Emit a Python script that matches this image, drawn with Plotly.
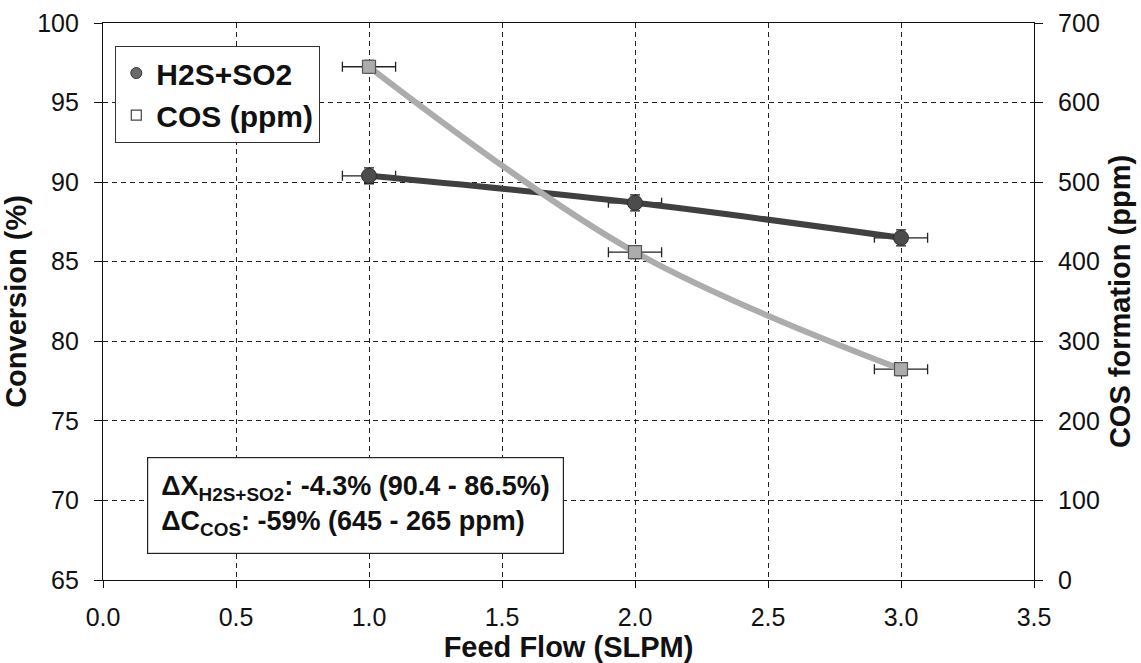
import plotly.graph_objects as go

# Feed flow (SLPM)
feed_flow = [1.0, 2.0, 3.0]
# H2S+SO2 conversion (%)
conversion = [90.4, 88.7, 86.5]
conversion_err = [0.5, 0.5, 0.5]
# COS formation (ppm)
cos_ppm = [645, 412, 265]
cos_err = [8, 8, 8]
flow_err = [0.1, 0.1, 0.1]

x_ticks = [0.0, 0.5, 1.0, 1.5, 2.0, 2.5, 3.0, 3.5]
left_ticks = [65, 70, 75, 80, 85, 90, 95, 100]
right_ticks = [0, 100, 200, 300, 400, 500, 600, 700]

FONT = "Liberation Sans, Arial, sans-serif"
DARK = "#404040"
LIGHT = "#acacac"
INK = "#111111"

fig = go.Figure()

# COS formation on the secondary axis
fig.add_trace(go.Scatter(
    x=feed_flow, y=cos_ppm, yaxis="y2", name="COS (ppm)",
    mode="lines+markers", showlegend=False,
    line=dict(color=LIGHT, width=6, shape="spline", smoothing=1.0),
    marker=dict(symbol="square", size=13, color=LIGHT,
                line=dict(color="#555555", width=1.2)),
    error_x=dict(type="data", array=flow_err, color="#222222",
                 thickness=1.3, width=5),
    error_y=dict(type="data", array=cos_err, color="#222222",
                 thickness=1.3, width=5),
))

# Conversion on the primary axis
fig.add_trace(go.Scatter(
    x=feed_flow, y=conversion, name="H2S+SO2",
    mode="lines+markers", showlegend=False,
    line=dict(color=DARK, width=6, shape="spline", smoothing=1.0),
    marker=dict(symbol="circle", size=15, color="#4c4c4c",
                line=dict(color="#2e2e2e", width=1)),
    error_x=dict(type="data", array=flow_err, color="#222222",
                 thickness=1.3, width=5),
    error_y=dict(type="data", array=conversion_err, color="#222222",
                 thickness=1.3, width=5),
))

# Marker-only legend entries
fig.add_trace(go.Scatter(
    x=[None], y=[None], name="<b>H2S+SO2</b>", mode="markers",
    marker=dict(symbol="circle", size=11, color="#6a6a6a",
                line=dict(color="#333333", width=1)),
))
fig.add_trace(go.Scatter(
    x=[None], y=[None], name="<b>COS (ppm)</b>", mode="markers",
    marker=dict(symbol="square", size=10, color="white",
                line=dict(color="#444444", width=1.2)),
))

grid = dict(showgrid=True, gridcolor="#222222", gridwidth=1,
            griddash="5px,4px")

fig.update_layout(
    width=1141, height=663,
    margin=dict(l=103, r=107, t=23, b=83),
    paper_bgcolor="white", plot_bgcolor="white",
    font=dict(family=FONT, size=25, color=INK),
    showlegend=True,
    legend=dict(
        x=0.013, y=0.959, xanchor="left", yanchor="top",
        bgcolor="white", bordercolor="#333333", borderwidth=1.2,
        font=dict(family=FONT, size=30, color=INK),
        itemwidth=30, tracegroupgap=4,
    ),
    xaxis=dict(
        range=[0.0, 3.5], tickvals=x_ticks,
        ticktext=[f"{v:.1f}" for v in x_ticks],
        ticks="outside", ticklen=7, tickcolor=INK,
        ticklabelstandoff=8, automargin=False,
        showline=True, linecolor=INK, linewidth=1.2, mirror=True,
        zeroline=False,
        title=dict(text="<b>Feed Flow (SLPM)</b>", standoff=10,
                   font=dict(family=FONT, size=29)),
        **grid,
    ),
    yaxis=dict(
        range=[65, 100], tickvals=left_ticks,
        ticks="outside", ticklen=8, tickcolor=INK,
        ticklabelstandoff=10, automargin=False,
        showline=True, linecolor=INK, linewidth=1.2,
        zeroline=False,
        title=dict(text="<b>Conversion (%)</b>", standoff=8,
                   font=dict(family=FONT, size=29)),
        **grid,
    ),
    yaxis2=dict(
        range=[0, 700], tickvals=right_ticks,
        overlaying="y", side="right",
        ticks="outside", ticklen=8, tickcolor=INK,
        ticklabelstandoff=10, automargin=False,
        showline=True, linecolor=INK, linewidth=1.2,
        showgrid=False, zeroline=False,
        title=dict(text="<b>COS formation (ppm)</b>", standoff=10,
                   font=dict(family=FONT, size=29)),
    ),
)

fig.add_annotation(
    xref="paper", yref="paper", x=0.047, y=0.221,
    xanchor="left", yanchor="top", align="left",
    text=("<b>ΔX<sub>H2S+SO2</sub>: -4.3% (90.4 - 86.5%)</b><br>"
          "<b>ΔC<sub>COS</sub>: -59% (645 - 265 ppm)</b>"),
    font=dict(family=FONT, size=27, color=INK),
    showarrow=False, bgcolor="white",
    bordercolor="#222222", borderwidth=1.2, borderpad=13,
)

fig.write_html("out.html")
